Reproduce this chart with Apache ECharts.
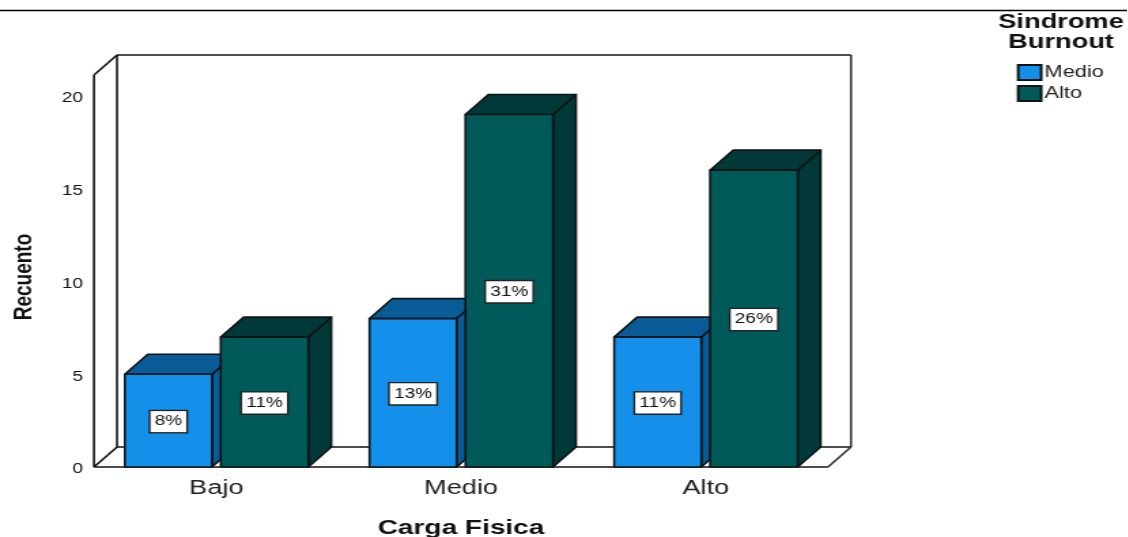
<!DOCTYPE html>
<html>
<head>
<meta charset="utf-8">
<style>
html,body{margin:0;padding:0;background:#fff;overflow:hidden}
#chart{height:537px;transform-origin:0 0}
</style>
<script src="https://cdn.jsdelivr.net/npm/echarts@6/dist/echarts.min.js"></script>
</head>
<body>
<div id="chart"></div>
<script>
const categories = ['Bajo', 'Medio', 'Alto'];
const medioCounts = [5, 8, 7];
const altoCounts = [7, 19, 16];
const medioPercents = ['8%', '13%', '11%'];
const altoPercents = ['11%', '31%', '26%'];
const seriesNames = ['Medio', 'Alto'];

// The whole chart is laid out narrower and widened by this factor,
// which gives its lettering the broad, flattened proportions.
const STRETCH = 1.36;
const sx = (px) => px / STRETCH;

const AXIS_MAX = 21.13;
const DEPTH_X = sx(23), DEPTH_Y = -20;
const EDGE = '#0d1414';
const FRONT = { Medio: '#1590EA', Alto: '#015A5A' };
const SHADE = { Medio: '#0A5C99', Alto: '#013838' };
const FONT = 'Liberation Sans';

// Extruded bar: front face, right side and top, with a boxed percent label.
function barRenderer(name, percents, startFrac, endFrac) {
  return function (params, api) {
    const i = api.value(0);
    const [cx, y1] = api.coord([i, api.value(1)]);
    const [, y0] = api.coord([i, 0]);
    const band = api.size([1, 0])[0];
    const x0 = cx + band * startFrac, x1 = cx + band * endFrac;
    const edge = { stroke: EDGE, lineWidth: 1.6, lineJoin: 'round' };
    const face = (pts, fill) => ({
      type: 'polygon', shape: { points: pts }, style: Object.assign({ fill }, edge)
    });
    return {
      type: 'group',
      children: [
        face([[x1, y0], [x1 + DEPTH_X, y0 + DEPTH_Y], [x1 + DEPTH_X, y1 + DEPTH_Y], [x1, y1]], SHADE[name]),
        face([[x0, y1], [x1, y1], [x1 + DEPTH_X, y1 + DEPTH_Y], [x0 + DEPTH_X, y1 + DEPTH_Y]], SHADE[name]),
        face([[x0, y0], [x1, y0], [x1, y1], [x0, y1]], FRONT[name]),
        {
          type: 'text',
          x: (x0 + x1) / 2, y: (y0 + y1) / 2 + 1,
          style: {
            text: percents[i], font: '14px "' + FONT + '"', fill: '#111',
            align: 'center', verticalAlign: 'middle',
            backgroundColor: '#fff', borderColor: '#222', borderWidth: 1.4,
            padding: [4, 3, 3, 3]
          }
        }
      ]
    };
  };
}

// Back wall and floor of the box that surrounds the plot.
function frameRenderer(params) {
  const { x: x0, y: y1, width, height } = params.coordSys;
  const x1 = x0 + width, y0 = y1 + height;
  const seg = (a, b, c, d, stroke) => ({
    type: 'line', shape: { x1: a, y1: b, x2: c, y2: d },
    style: { stroke: stroke || '#111', lineWidth: 1.6, fill: 'none' }
  });
  return {
    type: 'group',
    children: [
      seg(x0 + DEPTH_X, y1 + DEPTH_Y, x1 + DEPTH_X, y1 + DEPTH_Y),
      seg(x1 + DEPTH_X, y1 + DEPTH_Y, x1 + DEPTH_X, y0 + DEPTH_Y, '#333'),
      seg(x0 + DEPTH_X, y1 + DEPTH_Y, x0 + DEPTH_X, y0 + DEPTH_Y),
      seg(x0 + DEPTH_X, y0 + DEPTH_Y, x1 + DEPTH_X, y0 + DEPTH_Y),
      seg(x0, y1, x0 + DEPTH_X, y1 + DEPTH_Y),
      seg(x0, y1, x0, y0),
      seg(x0, y0, x0 + DEPTH_X, y0 + DEPTH_Y),
      seg(x1, y0, x1 + DEPTH_X, y0 + DEPTH_Y, '#333'),
      seg(x0, y0, x1, y0)
    ]
  };
}

const el = document.getElementById('chart');
el.style.width = sx(1128) + 'px';
el.style.transform = 'scaleX(' + STRETCH + ')';

const chart = echarts.init(el);
chart.setOption({
  animation: false,
  backgroundColor: '#fff',
  grid: { left: sx(94), top: 75, width: sx(734), height: 392, outerBoundsMode: 'none' },
  xAxis: {
    type: 'category', data: categories,
    axisLine: { show: false }, axisTick: { show: false },
    axisLabel: { margin: 11, color: '#222', fontFamily: FONT, fontSize: 20 },
    name: 'Carga Fisica', nameLocation: 'middle', nameGap: 51,
    nameTextStyle: { color: '#111', fontFamily: FONT, fontWeight: 'bold', fontSize: 20.6 }
  },
  yAxis: {
    type: 'value', min: 0, max: AXIS_MAX, interval: 5,
    splitLine: { show: false }, axisLine: { show: false }, axisTick: { show: false },
    axisLabel: { margin: 8, color: '#111', fontFamily: FONT, fontSize: 14, showMaxLabel: false, verticalAlign: 'top', lineHeight: 5 },
    name: 'Recuento', nameLocation: 'middle', nameGap: 42,
    nameTextStyle: { color: '#111', fontFamily: FONT, fontWeight: 'bold', fontSize: 19, padding: [0, 12, 0, 0] }
  },
  legend: {
    orient: 'vertical', left: sx(1010), top: 59, itemWidth: sx(23), itemHeight: 15, itemGap: 4,
    icon: 'rect', data: seriesNames,
    textStyle: { color: '#222', fontFamily: FONT, fontSize: 16, padding: [0, 0, 0, -2.5] }
  },
  graphic: [
    { type: 'line', shape: { x1: 0, y1: 10.5, x2: sx(1128), y2: 10.5 }, style: { stroke: '#000', lineWidth: 1.4 } },
    { type: 'text', x: sx(1061), y: 32, style: {
        text: 'Sindrome\nBurnout', font: 'bold 20px "' + FONT + '"', lineHeight: 20,
        fill: '#111', align: 'center', verticalAlign: 'middle' } }
  ],
  series: [
    { type: 'custom', silent: true, legendHoverLink: false, z: 1, renderItem: frameRenderer,
      data: [[0, 0]], encode: { x: 0, y: 1 }, tooltip: { show: false } },
    { type: 'custom', name: seriesNames[0], z: 2, itemStyle: { color: FRONT.Medio, borderColor: EDGE, borderWidth: 1.3 },
      renderItem: barRenderer('Medio', medioPercents, -0.374, -0.018),
      data: medioCounts.map((v, i) => [i, v]), encode: { x: 0, y: 1 } },
    { type: 'custom', name: seriesNames[1], z: 3, itemStyle: { color: FRONT.Alto, borderColor: EDGE, borderWidth: 1.3 },
      renderItem: barRenderer('Alto', altoPercents, 0.018, 0.376),
      data: altoCounts.map((v, i) => [i, v]), encode: { x: 0, y: 1 } }
  ]
});
</script>
</body>
</html>
